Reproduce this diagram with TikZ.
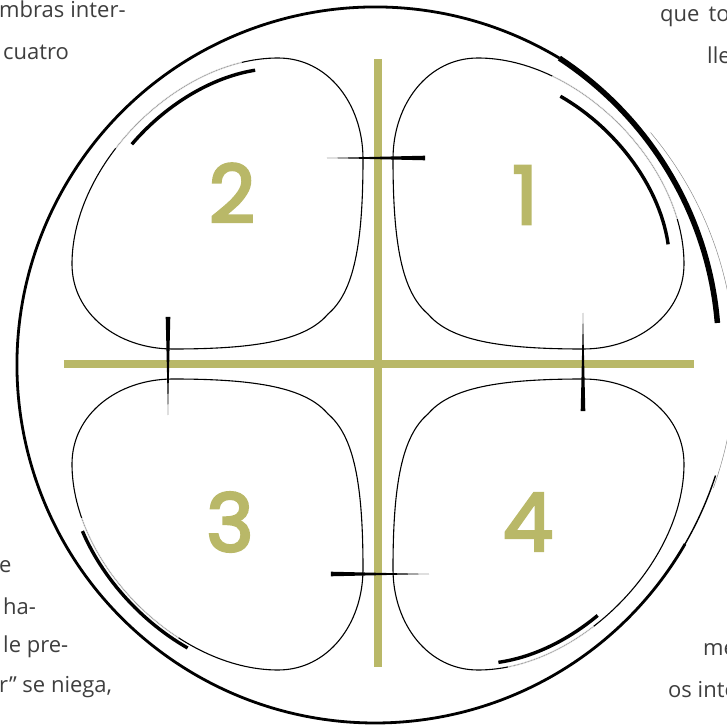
\documentclass[tikz,border=0pt]{standalone}
\usepackage{fontspec}
\setmainfont{Open Sans}
\newfontfamily\digitfont{Poppins}[FakeBold=3.5]
\definecolor{crossolive}{RGB}{185,184,104}
\definecolor{textgray}{RGB}{62,62,62}
% one petal, top right quadrant, centre of the cross at the origin
\newcommand{\petaloutline}{(15,205) .. controls (15,260) and (50,306) .. (100,306)
  .. controls (200,306) and (306,200) .. (306,100)
  .. controls (306,50) and (260,15) .. (205,15)
  .. controls (120,15) and (72,24) .. (50,50)
  .. controls (24,72) and (15,120) .. cycle}
% piece of the outer edge of a petal, scaled by #1 about (100,100), from t=#2 to t=#3
\newcommand{\rimpath}[3]{plot[domain=#2:#3, samples=30, variable=\q]
  ({100+#1*((1-\q)^3*100+3*(1-\q)^2*\q*200+3*(1-\q)*\q^2*306+\q^3*306-100)},
   {100+#1*((1-\q)^3*306+3*(1-\q)^2*\q*306+3*(1-\q)*\q^2*200+\q^3*100-100)})}
\tikzset{
  axisline/.style={crossolive, line width=8pt},
  petal/.style={black, line width=1.1pt},
  brush/.style={black, line width=3.4pt},
  hair/.style={black!45, line width=0.5pt},
  rim/.style={black, line width=2.8pt},
  spike/.style={fill=black},
  digit/.style={text=crossolive, font=\digitfont\fontsize{80}{80}\selectfont},
  prose/.style={text=textgray, font=\fontsize{22}{22}\selectfont, inner sep=0pt}
}
\begin{document}
\begin{tikzpicture}[x=1pt, y=1pt]
\useasboundingbox (-378,-364) rectangle (349,364);

% outer circle
\draw[rim] (-3,-1) ++(59:358) arc[start angle=59, end angle=330, radius=358];
\draw[rim, line width=1.4pt] (-3,-1) ++(-30.5:358) arc[start angle=-30.5, end angle=-18, radius=358.5];
\draw[hair] (-3,-1) ++(-20:360) arc[start angle=-20, end angle=40, radius=361];
\draw[rim, line width=5.5pt] plot[domain=59:7, samples=40, variable=\ang]
  ({-3+(358-13*(59-\ang)/52)*cos(\ang)}, {-1+(358-13*(59-\ang)/52)*sin(\ang)});

% cross
\draw[axisline] (0,305) -- (0,-303);
\draw[axisline] (-314,0) -- (316,0);

% petals
\foreach \sx/\sy/\k/\ta/\tb/\ha/\hb in {1/1/0.93/0.3/0.93/0.25/0.85, -1/1/0.95/0.08/0.56/0.12/0.6,
                                        -1/-1/1.02/0.3/0.78/0.34/0.82, 1/-1/0.97/0.07/0.43/0.1/0.4}{
  \begin{scope}[xscale=\sx, yscale=\sy]
    \draw[petal] \petaloutline;
    \draw[white, line width=1.8pt] \rimpath{1}{\ha}{\hb};
    \draw[hair] \rimpath{1}{\ha}{\hb};
    \draw[brush] \rimpath{\k}{\ta}{\tb};
  \end{scope}
}

% spikes across the cross
\foreach \px/\py/\rot in {0/206/0, 205/0/-90, 0/-210/180, -210/0/90}{
  \fill[spike, shift={(\px,\py)}, rotate=\rot] (-51,0) -- (47,2.3) -- (47,-2.3) -- cycle;
}

% numbers
\node[digit] (n1) at (147,169) {1};
\node[digit] (n2) at (-146,171) {2};
\node[digit] (n3) at (-148,-158) {3};
\node[digit] (n4) at (150,-158) {4};

% text running round the figure
\node[prose, anchor=base west] (tl1) at (-379,346) {mbras\hspace{6pt}inter-};
\node[prose, anchor=base west] (tl2) at (-375,304) {cuatro};
\node[prose, anchor=base west] (tr1) at (282,342) {que\hspace{9pt}to};
\node[prose, anchor=base west] (tr2) at (329,300) {lle};
\node[prose, anchor=base west] (bl1) at (-379,-208) {e};
\node[prose, anchor=base west] (bl2) at (-375,-250) {ha-};
\node[prose, anchor=base west] (bl3) at (-375,-288) {le pre-};
\node[prose, anchor=base west] (bl4) at (-379,-328) {r” se niega,};
\node[prose, anchor=base west] (br1) at (325,-291) {me};
\node[prose, anchor=base west] (br2) at (290,-333) {os inte};
\end{tikzpicture}
\end{document}
